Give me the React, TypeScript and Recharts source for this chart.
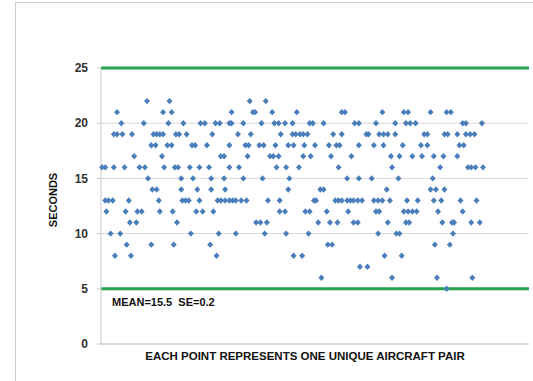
import { ScatterChart, Scatter, XAxis, YAxis, CartesianGrid, ReferenceLine } from 'recharts'

document.body.style.margin = '0'

// pair index (position along the x axis) for every point, grouped by seconds value
const at22 = [43, 64, 139, 154]
const at21 = [15, 58, 66, 122, 142, 144, 160, 183, 225, 228, 263, 283, 287, 308, 323, 327]
const at20 = [19, 40, 63, 77, 93, 97, 107, 111, 120, 122, 133, 150, 162, 166, 172, 179, 195, 198, 208, 237, 241, 257, 275, 285, 289, 294, 338, 341, 356]
const at19 = [12, 15, 20, 29, 49, 52, 55, 58, 70, 73, 80, 104, 128, 140, 168, 179, 182, 186, 189, 193, 217, 225, 248, 250, 260, 264, 268, 275, 302, 305, 321, 324, 333, 341, 345, 349]
const at18 = [47, 51, 62, 66, 85, 88, 99, 120, 135, 138, 148, 152, 163, 175, 180, 190, 200, 213, 220, 223, 241, 255, 264, 282, 299, 305, 335, 339]
const at17 = [31, 57, 112, 115, 137, 158, 161, 166, 189, 196, 215, 234, 271, 279, 291, 300, 311, 320, 333]
const at16 = [1, 4, 12, 22, 36, 41, 59, 69, 72, 83, 92, 101, 120, 129, 164, 173, 185, 222, 272, 317, 343, 346, 350, 357]
const at15 = [44, 75, 86, 103, 115, 133, 151, 176, 230, 241, 253, 278, 310]
const at14 = [48, 52, 75, 90, 103, 116, 175, 205, 208, 267, 308, 313, 321]
const at13 = [4, 7, 11, 26, 54, 76, 79, 82, 92, 109, 112, 116, 120, 123, 126, 131, 136, 156, 167, 199, 201, 219, 222, 225, 230, 233, 236, 240, 244, 255, 259, 263, 270, 286, 296, 311, 318, 336, 351]
const at12 = [5, 23, 34, 38, 55, 67, 89, 95, 105, 167, 172, 191, 195, 211, 231, 257, 260, 283, 287, 291, 295, 315, 338]
const at11 = [27, 33, 71, 145, 149, 155, 203, 214, 221, 236, 240, 268, 285, 288, 319, 328, 330, 346, 354]
const at10 = [9, 18, 84, 110, 126, 153, 173, 194, 259, 276, 279, 329]
const at9 = [24, 47, 68, 102, 212, 216, 312, 326]
const at8 = [13, 28, 108, 180, 188, 265, 281]
const at7 = [242, 249]
const at6 = [206, 272, 314, 347]
const at5 = [323]

const yTicks = [0, 5, 10, 15, 20, 25]
const limits = [5, 25]

const groups: [number, number[]][] = [
  [22, at22], [21, at21], [20, at20], [19, at19], [18, at18], [17, at17],
  [16, at16], [15, at15], [14, at14], [13, at13], [12, at12], [11, at11],
  [10, at10], [9, at9], [8, at8], [7, at7], [6, at6], [5, at5],
]

const points = groups.flatMap(([seconds, pairs]) => pairs.map((pair) => ({ pair, seconds })))

const font = '"Liberation Sans", Arial, sans-serif'

function Diamond(props: any) {
  const { cx, cy } = props
  if (cx == null || cy == null) return null
  const w = 3
  const h = 3.2
  return (
    <polygon
      points={`${cx},${cy - h} ${cx + w},${cy} ${cx},${cy + h} ${cx - w},${cy}`}
      fill="#4a7ebb"
    />
  )
}

export default function App() {
  return (
    <div style={{ position: 'relative', width: 533, height: 381, background: '#fff', overflow: 'hidden', fontFamily: font }}>
      <div
        style={{
          position: 'absolute',
          left: 15,
          top: 2,
          width: 600,
          height: 500,
          borderLeft: '1px solid #d0d0d0',
          borderTop: '1px solid #d0d0d0',
        }}
      />
      <div style={{ position: 'absolute', left: 0, top: 0 }}>
        <ScatterChart width={533} height={381} margin={{ top: 68, right: 4, bottom: 0, left: 0 }}>
          <CartesianGrid vertical={false} stroke="#d9d9d9" />
          <XAxis
            type="number"
            dataKey="pair"
            domain={[0, 400]}
            tick={false}
            tickLine={false}
            height={37}
            axisLine={{ stroke: '#c8c8c8' }}
          />
          <YAxis
            type="number"
            dataKey="seconds"
            domain={[0, 25]}
            ticks={yTicks}
            width={101}
            tickSize={4}
            tickMargin={9}
            tickLine={{ stroke: '#c8c8c8' }}
            axisLine={{ stroke: '#c8c8c8' }}
            tick={{ fontSize: 12, fontWeight: 'bold', fill: '#333', fontFamily: font }}
          />
          {limits.map((v) => (
            <ReferenceLine key={v} y={v} stroke="#27a24f" strokeWidth={3} />
          ))}
          <Scatter data={points} shape={Diamond} isAnimationActive={false} />
        </ScatterChart>
      </div>
      <div
        style={{
          position: 'absolute',
          left: 112,
          top: 296,
          fontSize: 11,
          fontWeight: 'bold',
          color: '#111',
          whiteSpace: 'pre',
        }}
      >
        {'MEAN=15.5  SE=0.2'}
      </div>
      <div
        style={{
          position: 'absolute',
          left: 91,
          width: 428,
          top: 350,
          textAlign: 'center',
          fontSize: 11.5,
          fontWeight: 'bold',
          color: '#111',
        }}
      >
        EACH POINT REPRESENTS ONE UNIQUE AIRCRAFT PAIR
      </div>
      <div
        style={{
          position: 'absolute',
          left: 53,
          top: 200,
          transform: 'translate(-50%, -50%) rotate(-90deg)',
          fontSize: 11,
          fontWeight: 'bold',
          color: '#111',
          whiteSpace: 'nowrap',
        }}
      >
        SECONDS
      </div>
    </div>
  )
}
